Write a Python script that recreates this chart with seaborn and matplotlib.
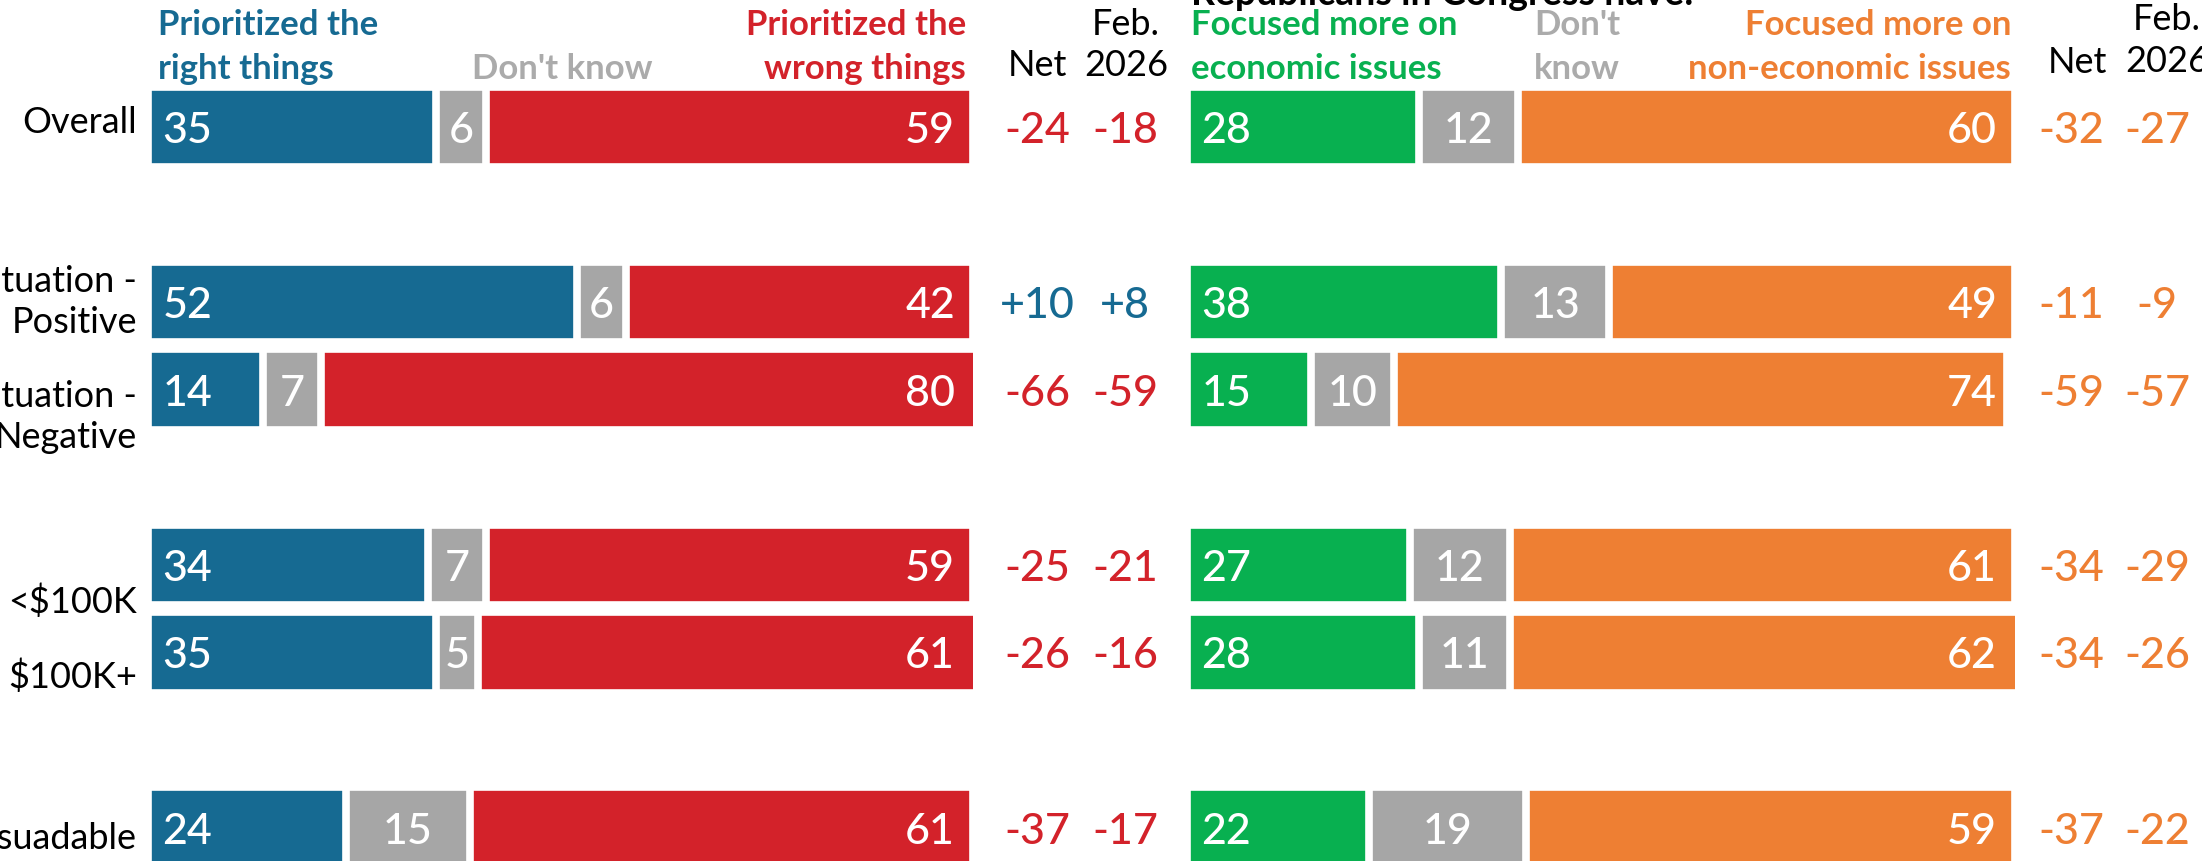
import numpy as np
import pandas as pd
import matplotlib
matplotlib.use("Agg")
import matplotlib.pyplot as plt
import seaborn as sns

# rows top to bottom (reference is a crop, so the left labels run off the edge)
row_labels = ["Overall", "Economic situation -\nPositive", "Economic situation -\nNegative",
              "<$100K", "$100K+", "Persuadable"]
row_pos = [0, 2, 3, 5, 6, 8]

# left panel: Congress has ...
right_things = [35, 52, 14, 34, 35, 24]
prio_dk = [6, 6, 7, 7, 5, 15]
wrong_things = [59, 42, 80, 59, 61, 61]
prio_net = [-24, 10, -66, -25, -26, -37]
prio_feb = [-18, 8, -59, -21, -16, -17]

# right panel: Republicans in Congress have ...
econ = [28, 38, 15, 27, 28, 22]
focus_dk = [12, 13, 10, 12, 11, 19]
non_econ = [60, 49, 74, 61, 62, 59]
focus_net = [-32, -11, -59, -34, -34, -37]
focus_feb = [-27, -9, -57, -29, -26, -22]

BLUE = "#166a92"
RED = "#d3222a"
GRAY = "#a6a6a6"
GREEN = "#08b050"
ORANGE = "#ee7f33"
HDR_GRAY = "#ababab"

# label baseline offsets from each bar's centre (the source table is a bit off-grid)
label_dy = [0.064, -0.125, 0.19, 0.537, 0.394, 0.237]
LINE_STEP = 0.465


def fmt(v):
    return f"+{v}" if v > 0 else str(v)


def draw_panel(ax, first, dk, last, colors):
    df = pd.DataFrame({"pos": row_pos, "first": first, "dk": dk, "last": last})
    df["c2"] = df["first"] + df["dk"]
    df["c3"] = df["c2"] + df["last"]
    # stacked look: draw cumulative totals back to front, white edges make the gaps
    for col, color in [("c3", colors[2]), ("c2", colors[1]), ("first", colors[0])]:
        sns.barplot(data=df, x=col, y="pos", orient="y", native_scale=True,
                    color=color, saturation=1, width=0.92, linewidth=5.5,
                    edgecolor="white", errorbar=None, ax=ax)
    for _, r in df.iterrows():
        y = r["pos"] + 0.17
        ax.text(1.8, y, f"{r['first']:.0f}", color="white", fontsize=31,
                fontweight="medium", ha="left", va="baseline")
        ax.text(r["first"] + r["dk"] / 2, y, f"{r['dk']:.0f}", color="white",
                fontsize=31, fontweight="medium", ha="center", va="baseline")
        ax.text(97.8, y, f"{r['last']:.0f}", color="white", fontsize=31,
                fontweight="medium", ha="right", va="baseline")
    ax.set_xlim(0, 100)
    ax.set_ylim(8.381, -1.459)
    ax.axis("off")


def draw_net(ax, net, feb, x_net, x_feb, pos_color, neg_color):
    for p, n, f in zip(row_pos, net, feb):
        y = p + 0.17
        ax.text(x_net, y, fmt(n), color=pos_color if n > 0 else neg_color,
                fontsize=31, fontweight="medium", ha="center", va="baseline")
        ax.text(x_feb, y, fmt(f), color=pos_color if f > 0 else neg_color,
                fontsize=31, fontweight="medium", ha="center", va="baseline")


sns.set_theme(style="white")
plt.rcParams["font.family"] = ["Lato", "DejaVu Sans"]

fig = plt.figure(figsize=(22.02, 8.62), dpi=100)
ax_l = fig.add_axes([147.5 / 2202, 0, 825.7 / 2202, 1])
ax_r = fig.add_axes([1186.6 / 2202, 0, 828.6 / 2202, 1])

draw_panel(ax_l, right_things, prio_dk, wrong_things, [BLUE, GRAY, RED])
draw_panel(ax_r, econ, focus_dk, non_econ, [GREEN, GRAY, ORANGE])
draw_net(ax_l, prio_net, prio_feb, 107.8, 118.4, BLUE, RED)
draw_net(ax_r, focus_net, focus_feb, 106.8, 117.1, GREEN, ORANGE)

# row labels
for p, lab, dy in zip(row_pos, row_labels, label_dy):
    for k, line in enumerate(lab.split("\n")):
        ax_l.text(-1.28, p + dy + k * LINE_STEP, line, fontsize=26, color="black",
                  ha="right", va="baseline")

# column headers
H1, H2 = -1.058, -0.561
hdr = dict(fontsize=25, fontweight="bold", va="baseline")
plain = dict(fontsize=26, color="black", ha="center", va="baseline")
ax_l.text(1.3, H1, "Prioritized the", color=BLUE, ha="left", **hdr)
ax_l.text(1.3, H2, "right things", color=BLUE, ha="left", **hdr)
ax_l.text(39.3, H2, "Don't know", color=HDR_GRAY, ha="left", **hdr)
ax_l.text(99.1, H1, "Prioritized the", color=RED, ha="right", **hdr)
ax_l.text(99.1, H2, "wrong things", color=RED, ha="right", **hdr)
ax_l.text(107.8, -0.59, "Net", **plain)
ax_l.text(118.5, -1.06, "Feb.", **plain)
ax_l.text(118.5, -0.59, "2026", **plain)

ax_r.text(0.5, -1.40, "Republicans in Congress have:", color="black", ha="left",
          fontsize=27, fontweight="bold", va="baseline")
ax_r.text(0.5, H1, "Focused more on", color=GREEN, ha="left", **hdr)
ax_r.text(0.5, H2, "economic issues", color=GREEN, ha="left", **hdr)
ax_r.text(41.9, H1, "Don't", color=HDR_GRAY, ha="left", **hdr)
ax_r.text(41.9, H2, "know", color=HDR_GRAY, ha="left", **hdr)
ax_r.text(99.5, H1, "Focused more on", color=ORANGE, ha="right", **hdr)
ax_r.text(99.5, H2, "non-economic issues", color=ORANGE, ha="right", **hdr)
ax_r.text(107.5, -0.62, "Net", **plain)
ax_r.text(118.3, -1.12, "Feb.", **plain)
ax_r.text(118.3, -0.64, "2026", **plain)

fig.savefig("out.png", dpi=100)
